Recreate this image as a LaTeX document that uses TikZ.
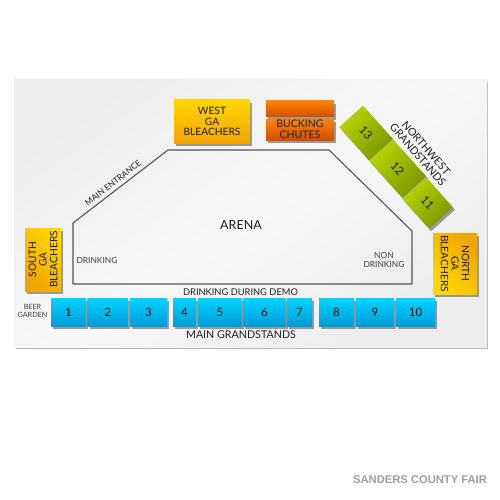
\documentclass[tikz,border=0pt]{standalone}
\usepackage{fontspec}
\setmainfont{Lato}
\newfontfamily\venuefont{Liberation Sans}
\usetikzlibrary{shadows}
\definecolor{fairyellowA}{RGB}{255,214,0}
\definecolor{fairyellowB}{RGB}{240,165,0}
\definecolor{fairorangeA}{RGB}{255,130,0}
\definecolor{fairorangeB}{RGB}{205,80,0}
\definecolor{fairblueA}{RGB}{0,212,255}
\definecolor{fairblueB}{RGB}{0,156,214}
\definecolor{fairgreenA}{RGB}{184,212,0}
\definecolor{fairgreenB}{RGB}{122,150,0}
\definecolor{fairline}{RGB}{85,85,85}
\definecolor{fairtext}{RGB}{30,30,30}
\tikzset{
  section/.style={
    rectangle, inner sep=0pt, align=center, text=fairtext,
    drop shadow={shadow xshift=2.2pt, shadow yshift=-2.6pt, opacity=0.5, fill=black!75},
    shading angle=45
  },
  blockY/.style={
    section, top color=fairyellowA, bottom color=fairyellowB,
    font=\fontsize{10.2}{10.6}\selectfont
  },
  blockO/.style={
    section, top color=fairorangeA, bottom color=fairorangeB,
    font=\fontsize{10.5}{10.6}\selectfont
  },
  blockB/.style={
    section, top color=fairblueA, bottom color=fairblueB,
    minimum height=28pt, font=\fontsize{11.5}{12}\selectfont
  },
  blockG/.style={
    section, top color=fairgreenA, bottom color=fairgreenB,
    minimum height=32pt, rotate=-48, shading angle=48,
    font=\fontsize{11.5}{12}\selectfont
  },
  tag/.style={
    inner sep=0pt, align=center, text=fairtext,
    font=\fontsize{8.4}{8.8}\selectfont
  },
  bigtag/.style={
    tag, font=\fontsize{10.7}{10.8}\selectfont
  }
}
\begin{document}
\begin{tikzpicture}[x=1pt, y=-1pt]
  \useasboundingbox (0,0) rectangle (500,500);

  \fill[black!28] (16,82) rectangle (488,349);
  \shade[left color=black!7, right color=black!7, middle color=black!3, shading angle=35]
    (14,80) rectangle (487,347);

  \draw[fairline, line width=1.1pt, line join=round]
    (168,150) -- (329,150) -- (412,231) -- (412,284) -- (73,284) -- (73,223) -- cycle;

  \node[blockY, minimum width=76pt, minimum height=43pt] (westga) at (212,121.5) {WEST\\GA\\BLEACHERS};
  \node[blockO, minimum width=68pt, minimum height=16pt] (chutestop) at (300,109) {};
  \node[blockO, minimum width=68pt, minimum height=21pt] (chutes) at (300,129.5) {BUCKING\\CHUTES};
  \node[blockY, minimum width=63pt, minimum height=36pt, rotate=90, shading angle=-45] (southga) at (43,259.5) {SOUTH\\GA\\BLEACHERS};
  \node[blockY, minimum width=61pt, minimum height=44pt, rotate=-90, shading angle=135] (northga) at (455,263.5) {NORTH\\GA\\BLEACHERS};

  \node[blockG, minimum width=44.6pt] (s13) at (366,133) {13};
  \node[blockG, minimum width=49.6pt] (s12) at (397.5,168.5) {12};
  \node[blockG, minimum width=40pt] (s11) at (427.5,203) {11};

  \node[blockB, minimum width=35pt] (s1) at (68.5,312) {1};
  \node[blockB, minimum width=40.5pt] (s2) at (107.7,312) {2};
  \node[blockB, minimum width=37pt] (s3) at (148.5,312) {3};
  \node[blockB, minimum width=23pt] (s4) at (184.5,312) {4};
  \node[blockB, minimum width=44pt] (s5) at (220,312) {5};
  \node[blockB, minimum width=43pt] (s6) at (264.5,312) {6};
  \node[blockB, minimum width=25pt] (s7) at (299.5,312) {7};
  \node[blockB, minimum width=35pt] (s8) at (336.5,312) {8};
  \node[blockB, minimum width=38pt] (s9) at (375,312) {9};
  \node[blockB, minimum width=39pt] (s10) at (415.5,312) {10};

  \node[bigtag, font=\fontsize{12.5}{13}\selectfont] (arena) at (241,225) {ARENA};
  \node[tag, rotate=38] (entrance) at (113,183) {MAIN ENTRANCE};
  \node[bigtag, rotate=-49] (northwest) at (422,151.5) {NORTHWEST\\GRANDSTANDS};
  \node[tag, text=fairtext!85] (drinking) at (97,260) {DRINKING};
  \node[tag, text=fairtext!85] (nondrinking) at (384,260) {NON\\DRINKING};
  \node[bigtag, font=\fontsize{9.3}{9.6}\selectfont] (demo) at (240.5,292) {DRINKING DURING DEMO};
  \node[bigtag] (grandstands) at (241,335) {MAIN GRANDSTANDS};
  \node[tag, text=fairtext!85, font=\fontsize{7.2}{7.8}\selectfont] (beer) at (32.5,311) {BEER\\GARDEN};
  \node[inner sep=0pt, text=black!38, font=\fontsize{11.2}{11.5}\selectfont\venuefont\bfseries] (venue) at (420,480) {SANDERS COUNTY FAIR};
\end{tikzpicture}
\end{document}
